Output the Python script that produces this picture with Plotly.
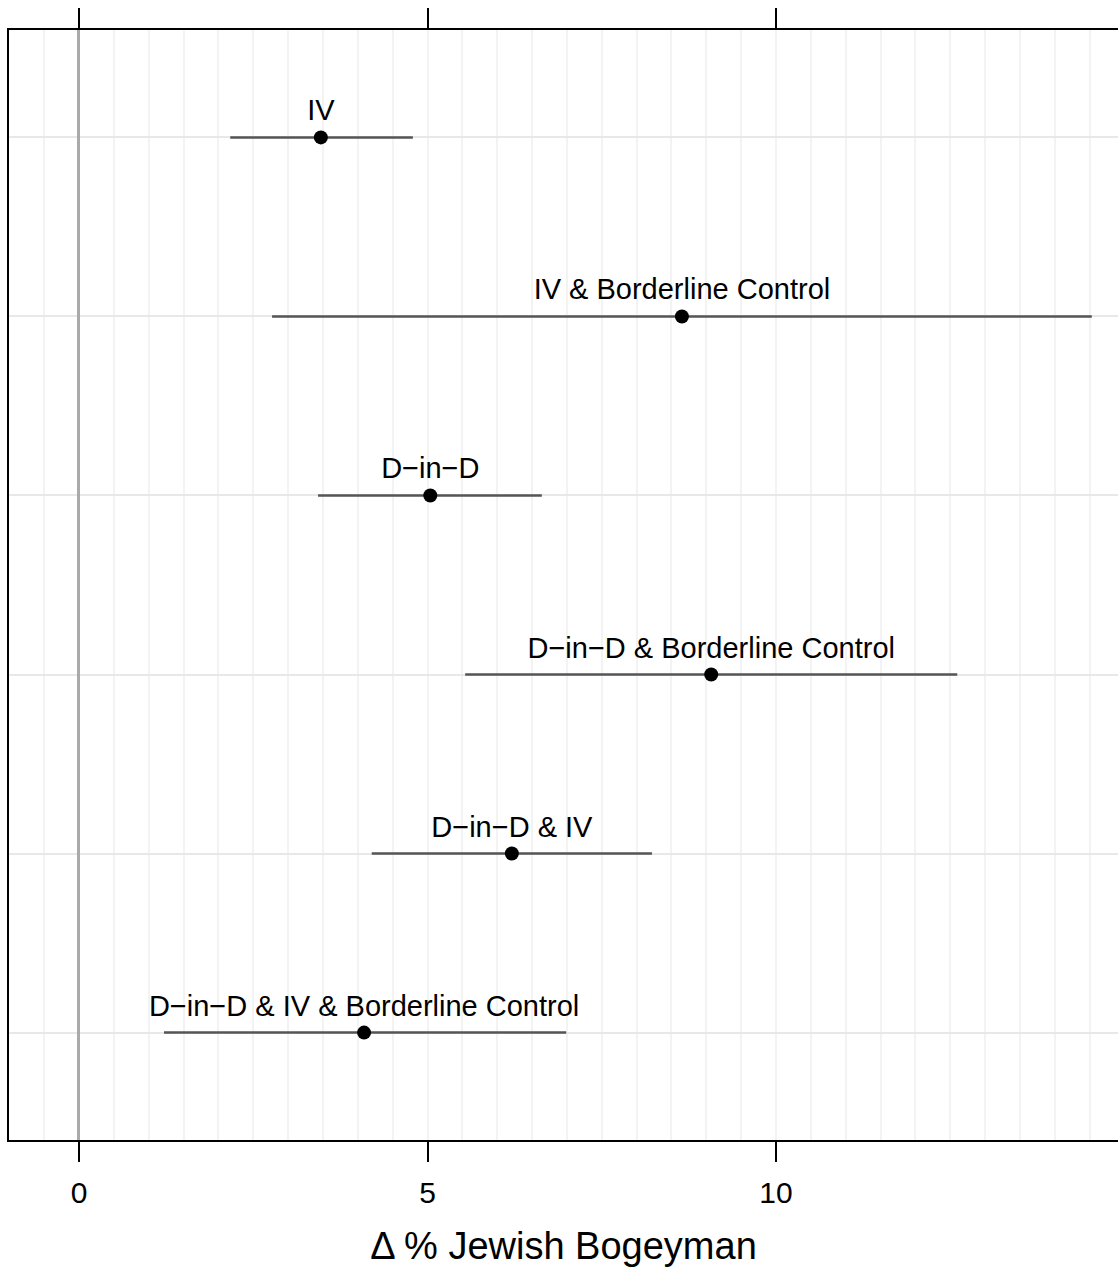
import plotly.graph_objects as go

# Estimates of the effect on the Jewish-bogeyman share, by model specification
models = [
    "IV",
    "IV & Borderline Control",
    "D\u2212in\u2212D",
    "D\u2212in\u2212D & Borderline Control",
    "D\u2212in\u2212D & IV",
    "D\u2212in\u2212D & IV & Borderline Control",
]
estimate = [3.47, 8.65, 5.04, 9.07, 6.21, 4.09]
ci_low = [2.17, 2.77, 3.43, 5.54, 4.20, 1.22]
ci_high = [4.79, 14.53, 6.64, 12.60, 8.22, 6.99]

row = list(range(1, len(models) + 1))
err_plus = [h - e for h, e in zip(ci_high, estimate)]
err_minus = [e - l for e, l in zip(estimate, ci_low)]

x_ticks = [0, 5, 10]
x_range = [-1.004, 14.906]
FONT = "Liberation Sans, Arial, Helvetica, sans-serif"

fig = go.Figure()

fig.add_trace(go.Scatter(
    x=estimate,
    y=row,
    mode="markers+text",
    text=models,
    textposition="top center",
    textfont=dict(family=FONT, size=29, color="black"),
    marker=dict(color="black", size=14),
    error_x=dict(
        type="data",
        symmetric=False,
        array=err_plus,
        arrayminus=err_minus,
        width=0,
        thickness=2.5,
        color="#555555",
    ),
    cliponaxis=False,
    showlegend=False,
    hoverinfo="skip",
))

# invisible trace so the mirrored top axis is rendered
fig.add_trace(go.Scatter(
    x=[x_range[0]], y=[1], xaxis="x2", mode="markers",
    marker=dict(opacity=0), showlegend=False, hoverinfo="skip",
))

fig.update_layout(
    width=1118,
    height=1277,
    margin=dict(l=9, r=0, t=30, b=137),
    paper_bgcolor="white",
    plot_bgcolor="white",
    font=dict(family=FONT, color="black"),
    xaxis=dict(
        range=x_range,
        tickvals=x_ticks,
        ticks="outside",
        ticklen=20,
        tickwidth=2,
        tickcolor="black",
        tickfont=dict(size=30, color="black"),
        ticklabelstandoff=5,
        showline=True,
        linecolor="black",
        linewidth=2,
        showgrid=True,
        gridcolor="#f3f3f3",
        gridwidth=2,
        minor=dict(dtick=0.5, showgrid=True, gridcolor="#f3f3f3", gridwidth=2, ticks=""),
        # reference line at zero
        zeroline=True,
        zerolinecolor="#aaaaaa",
        zerolinewidth=3,
        title=dict(text="\u0394 % Jewish Bogeyman", font=dict(size=38, color="black"), standoff=24),
    ),
    xaxis2=dict(
        range=x_range,
        overlaying="x",
        side="top",
        tickvals=x_ticks,
        ticks="outside",
        ticklen=20,
        tickwidth=2,
        tickcolor="black",
        showticklabels=False,
        showline=True,
        linecolor="black",
        linewidth=2,
        showgrid=False,
        zeroline=False,
    ),
    yaxis=dict(
        range=[6.6, 0.4],
        tickvals=row,
        showticklabels=False,
        ticks="",
        showline=True,
        linecolor="black",
        linewidth=2,
        showgrid=True,
        gridcolor="#e8e8e8",
        gridwidth=2,
        zeroline=False,
    ),
)

fig.write_html("out.html")
